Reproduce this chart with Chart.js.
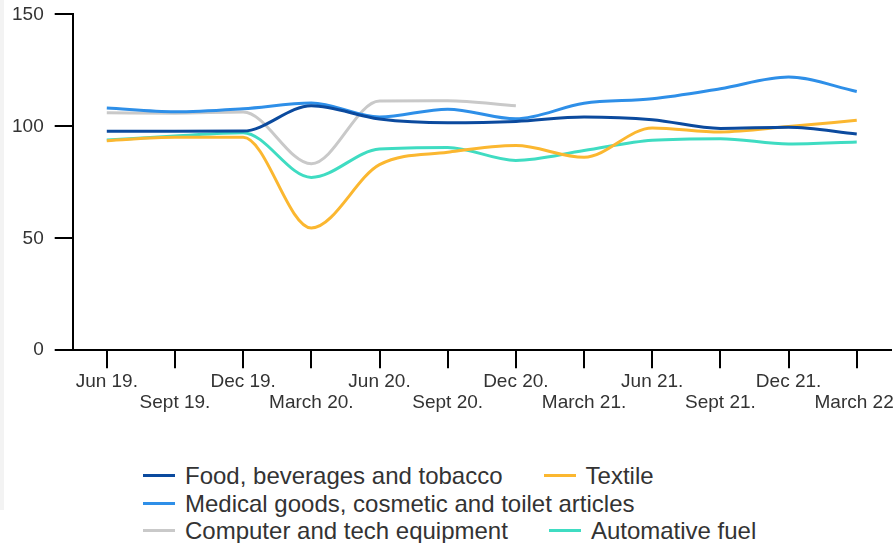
<!DOCTYPE html>
<html>
<head>
<meta charset="utf-8">
<script src="https://cdn.jsdelivr.net/npm/chart.js@4"></script>
<style>
  html, body { margin: 0; padding: 0; background: #fff; }
  body { width: 893px; height: 543px; overflow: hidden; position: relative; font-family: "Liberation Sans", Arial, sans-serif; }
  .side-strip { position: absolute; left: 0; top: 0; width: 4px; height: 510px; background: #f3f3f3; }
  .chart-wrapper { position: absolute; left: 0; top: 0; width: 893px; height: 420px; overflow: hidden; }
  #retailChart { display: block; margin-top: -7px; }
  .legend {
    position: absolute; left: 143px; top: 462px; width: 650px;
    display: flex; flex-wrap: wrap; column-gap: 41px;
    font-size: 24px; line-height: 27.5px; color: #333;
  }
  .legend-item { display: inline-flex; align-items: center; white-space: nowrap; }
  .legend-swatch { width: 32px; height: 3px; margin-right: 10px; }
</style>
</head>
<body>
<div class="side-strip"></div>
<div class="chart-wrapper">
  <canvas id="retailChart" width="902" height="423"></canvas>
</div>
<div class="legend" id="legend"></div>

<script>
// quarters shown on the x axis
const quarters = ['Jun 19.', 'Sept 19.', 'Dec 19.', 'March 20.', 'Jun 20.', 'Sept 20.',
                  'Dec 20.', 'March 21.', 'Jun 21.', 'Sept 21.', 'Dec 21.', 'March 22.'];

// index values per quarter
const food     = [97.8, 97.8, 97.9, 109.2, 103.3, 101.6, 102.2, 104.2, 103.0, 99.1, 99.6, 96.6];
const textile  = [93.6, 95.1, 95.1, 54.6, 82.9, 88.4, 91.4, 86.2, 99.3, 97.5, 99.9, 102.7];
const medical  = [108.2, 106.5, 107.9, 110.4, 104.2, 107.7, 103.4, 110.3, 112.3, 116.8, 122.0, 115.6];
const computer = [106.1, 105.9, 106.4, 83.3, 111.3, 111.4, 109.2, null, null, null, null, null];
const fuel     = [93.9, 95.7, 97.2, 77.2, 89.9, 90.6, 84.8, 89.2, 93.8, 94.5, 92.1, 93.0];

const yTicks = [0, 50, 100, 150];

const series = [
  { label: 'Food, beverages and tobacco', data: food, color: '#0b4a9e' },
  { label: 'Textile', data: textile, color: '#fbb730' },
  { label: 'Medical goods, cosmetic and toilet articles', data: medical, color: '#2e8fe8' },
  { label: 'Computer and tech equipment', data: computer, color: '#c9c9c9' },
  { label: 'Automative fuel', data: fuel, color: '#3fdcc2' }
];

const tickFont = { family: '"Liberation Sans", Arial, sans-serif', size: 19, lineHeight: 1.1 };

let ctx = document.getElementById('retailChart').getContext('2d');
let retailChart = new Chart(ctx, {
  type: 'line',
  data: {
    labels: quarters,
    datasets: series.map(s => ({
      label: s.label,
      data: s.data,
      borderColor: s.color,
      backgroundColor: s.color,
      borderWidth: 3,
      pointRadius: 0,
      fill: false,
      cubicInterpolationMode: 'monotone',
      spanGaps: false
    }))
  },
  options: {
    responsive: false,
    animation: false,
    devicePixelRatio: 1,
    layout: { padding: { left: 1, top: 0, right: 0, bottom: 0 } },
    plugins: {
      legend: { display: false },
      tooltip: { enabled: false }
    },
    scales: {
      x: {
        offset: true,
        border: { display: true, color: '#000', width: 2 },
        grid: { display: true, drawOnChartArea: false, drawTicks: true, tickLength: 18, color: '#000', lineWidth: 2, offset: false },
        ticks: {
          autoSkip: false,
          maxRotation: 0,
          padding: 3,
          color: '#333',
          font: tickFont,
          // alternate rows so the labels do not collide
          callback: (value, index) => index % 2 === 0 ? [quarters[index], ''] : ['', quarters[index]]
        }
      },
      y: {
        min: 0,
        max: 150,
        afterBuildTicks: scale => { scale.ticks = yTicks.map(v => ({ value: v })); },
        border: { display: true, color: '#000', width: 2 },
        grid: { display: true, drawOnChartArea: false, drawTicks: true, tickLength: 18, color: '#000', lineWidth: 2 },
        ticks: { padding: 11, color: '#333', font: tickFont }
      }
    }
  }
});

// legend below the chart, built from the datasets
const legendEl = document.getElementById('legend');
retailChart.data.datasets.forEach(ds => {
  const item = document.createElement('span');
  item.className = 'legend-item';
  const swatch = document.createElement('span');
  swatch.className = 'legend-swatch';
  swatch.style.background = ds.borderColor;
  item.appendChild(swatch);
  item.appendChild(document.createTextNode(ds.label));
  legendEl.appendChild(item);
});
</script>
</body>
</html>
